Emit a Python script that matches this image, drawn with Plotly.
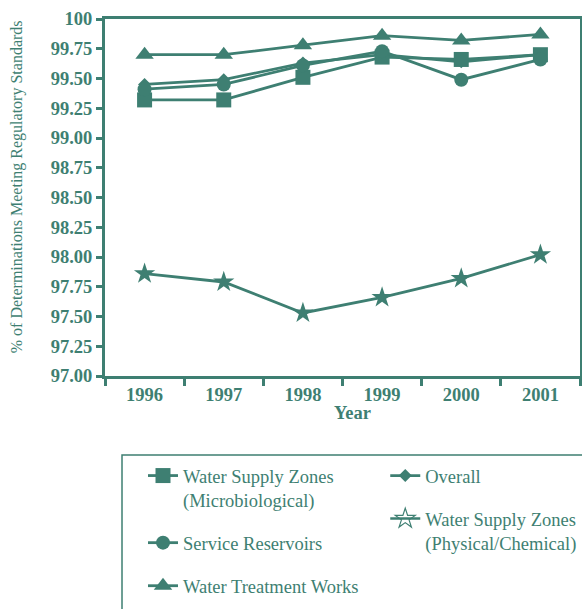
import plotly.graph_objs as go

TEAL = '#3e7f72'
SERIF = 'Liberation Serif, Times New Roman, serif'

years = ['1996', '1997', '1998', '1999', '2000', '2001']

wsz_micro = [99.32, 99.32, 99.51, 99.68, 99.66, 99.70]
overall = [99.45, 99.49, 99.63, 99.70, 99.64, 99.70]
service_res = [99.41, 99.45, 99.61, 99.73, 99.49, 99.66]
treatment_works = [99.70, 99.70, 99.78, 99.86, 99.82, 99.87]
wsz_phys = [97.86, 97.79, 97.53, 97.66, 97.82, 98.02]

y_ticks = [97.0, 97.25, 97.5, 97.75, 98.0, 98.25, 98.5, 98.75, 99.0, 99.25, 99.5, 99.75, 100.0]
y_tick_text = ['97.00', '97.25', '97.50', '97.75', '98.00', '98.25', '98.50', '98.75',
               '99.00', '99.25', '99.50', '99.75', '100']


def series(name, values, symbol, size, legend, group, showlegend=True):
    return go.Scatter(
        x=years, y=values, name=name, mode='lines+markers',
        line=dict(color=TEAL, width=2.8),
        marker=dict(symbol=symbol, size=size, color=TEAL),
        legend=legend, legendgroup=group, showlegend=showlegend,
        cliponaxis=False
    )


fig = go.Figure()

# overall first so its diamonds sit underneath the other markers
fig.add_trace(series('Overall', overall, 'diamond', 10, 'legend2', 'ov'))
fig.add_trace(series('Water Supply Zones<br>(Microbiological)', wsz_micro, 'square', 15, 'legend', 'wm'))
fig.add_trace(series('Service Reservoirs', service_res, 'circle', 14, 'legend', 'sr'))
fig.add_trace(series('Water Treatment Works', treatment_works, 'triangle-up', 16, 'legend', 'tw'))
fig.add_trace(series('Water Supply Zones<br>(Physical/Chemical)', wsz_phys, 'star', 16, 'legend2', 'wp',
                     showlegend=False))
# legend entry with the open star used in the original key
fig.add_trace(go.Scatter(
    x=[None], y=[None], name='Water Supply Zones<br>(Physical/Chemical)', mode='lines+markers',
    line=dict(color=TEAL, width=2.5),
    marker=dict(symbol='star-open', size=15, color=TEAL, line=dict(width=1.2)),
    legend='legend2', legendgroup='wp'
))

legend_style = dict(
    orientation='v', valign='top', tracegroupgap=16,
    font=dict(family=SERIF, size=18.5, color=TEAL),
    bgcolor='rgba(0,0,0,0)', borderwidth=0,
    yanchor='top', xanchor='left', traceorder='grouped'
)

fig.update_layout(
    width=582, height=609,
    margin=dict(l=105, r=2, t=19, b=233, autoexpand=False),
    plot_bgcolor='white',
    paper_bgcolor='white',
    showlegend=True,
    legend=dict(x=0.08, y=-0.227, **legend_style),
    legend2=dict(x=0.59, y=-0.227, **legend_style),
    shapes=[dict(
        type='rect', xref='paper', yref='paper',
        x0=0.0358, x1=1.1, y0=-0.2213, y1=-0.72,
        line=dict(color=TEAL, width=1.5), fillcolor='rgba(0,0,0,0)'
    )],
    annotations=[
        dict(text='<b>Year</b>', xref='paper', yref='paper', x=0.52, y=-0.1036,
             xanchor='center', yanchor='middle', showarrow=False,
             font=dict(family=SERIF, size=18.5, color=TEAL)),
        dict(text='% of Determinations Meeting Regulatory Standards', textangle=-90,
             xref='paper', yref='paper', x=-0.185, y=0.529,
             xanchor='center', yanchor='middle', showarrow=False,
             font=dict(family=SERIF, size=16, color=TEAL)),
    ]
)

fig.update_xaxes(
    type='category', range=[-0.5, 5.5],
    showline=True, linecolor=TEAL, linewidth=3, mirror=True,
    ticks='outside', tickson='boundaries', ticklen=7, tickwidth=3, tickcolor=TEAL,
    showgrid=False, zeroline=False,
    tickfont=dict(family=SERIF, size=18.5, color=TEAL, weight='bold')
)

fig.update_yaxes(
    range=[97, 100], tickvals=y_ticks, ticktext=y_tick_text,
    showline=True, linecolor=TEAL, linewidth=3, mirror=True,
    ticks='outside', ticklen=6, tickwidth=3, tickcolor=TEAL,
    showgrid=False, zeroline=False,
    tickfont=dict(family=SERIF, size=18.5, color=TEAL, weight='bold')
)

# drop the default page margin so the figure fills the window exactly
fig.write_html("out.html",
               config={'displayModeBar': False},
               post_script="document.body.style.margin='0';document.body.style.overflow='hidden';")
